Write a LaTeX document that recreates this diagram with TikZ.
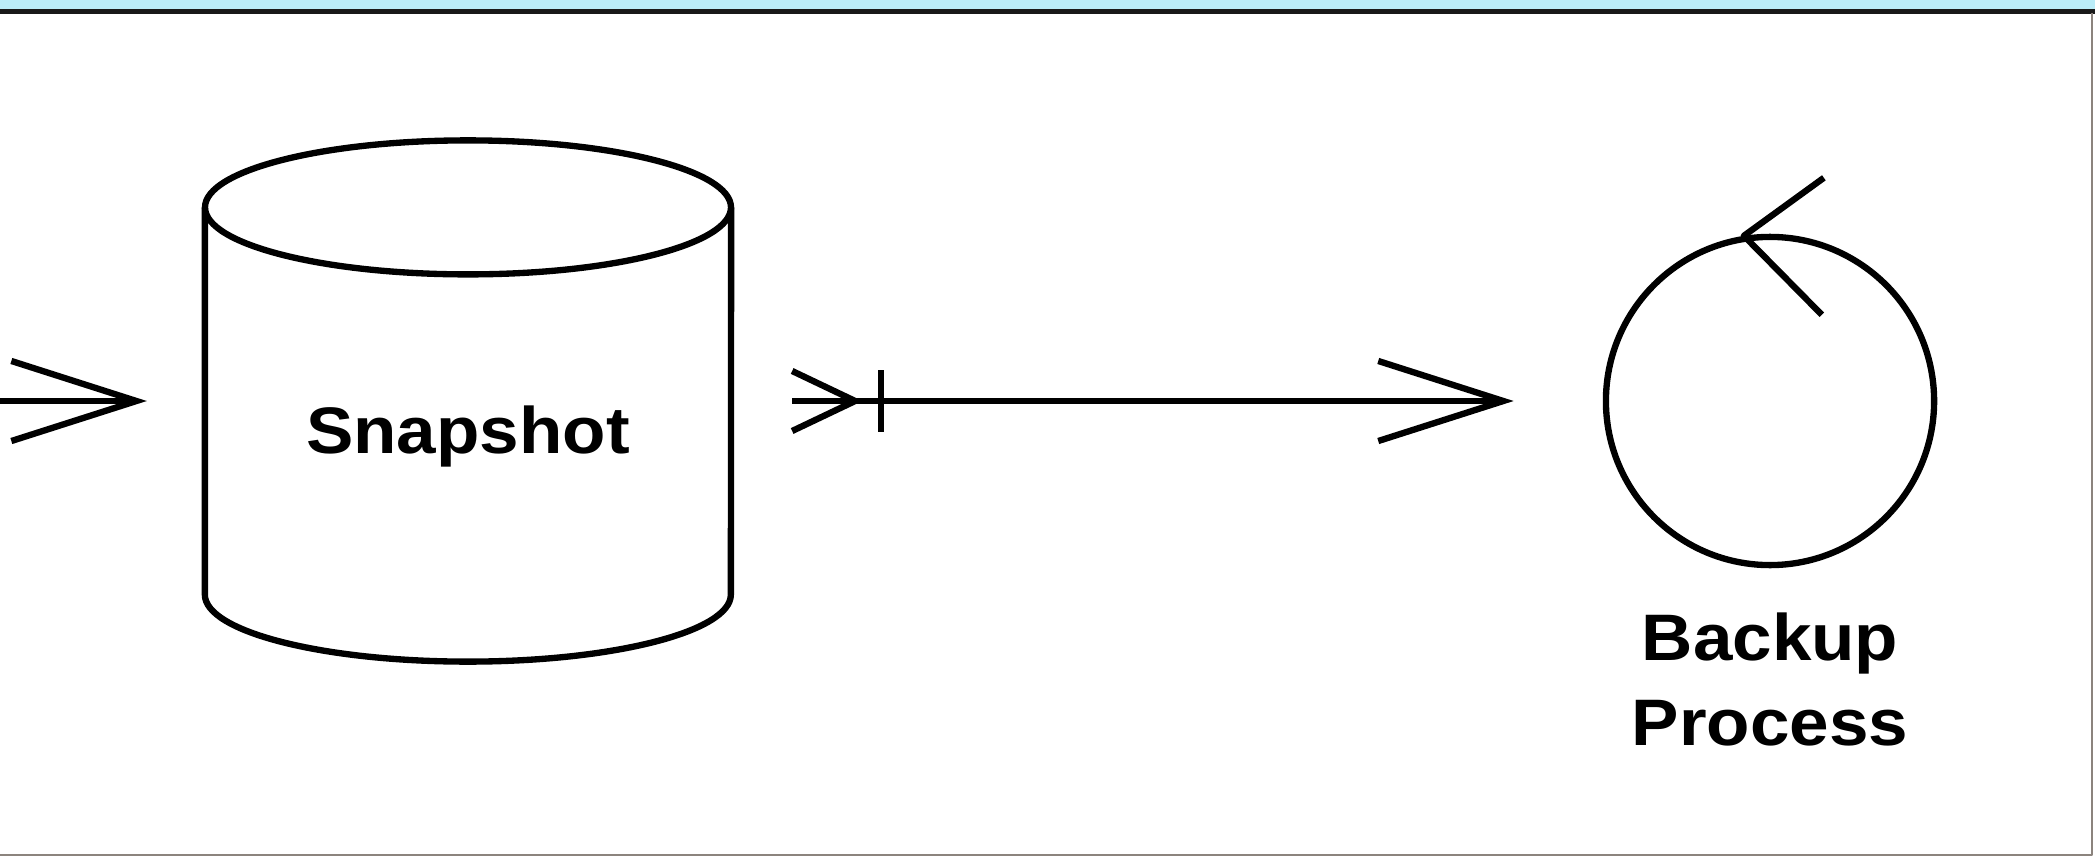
\documentclass[tikz,border=0pt]{standalone}
\usepackage{fontspec}
\newfontfamily\lblfont{Liberation Sans}[FakeStretch=1.08]
\usetikzlibrary{arrows.meta,positioning}
\definecolor{bandcyan}{RGB}{186,236,248}
\definecolor{framegray}{RGB}{140,132,126}
\begin{document}
\begin{tikzpicture}[x=0.01cm,y=0.01cm,line width=1.8pt,line join=round,
    flow/.style={-{Straight Barb[length=1.25cm,width=0.8cm]}},
    lbl/.style={font=\lblfont\bfseries\fontsize{18.7pt}{24.2pt}\selectfont,inner sep=0pt,align=center},
    store/.style={minimum width=5.26cm,minimum height=5.21cm,inner sep=0pt,outer sep=0pt},
    proc/.style={draw,circle,minimum size=3.28cm,inner sep=0pt}]
  \useasboundingbox (0,0) rectangle (2095,857);
  \fill[white] (0,0) rectangle (2095,857);
  \fill[bandcyan] (0,847) rectangle (2095,857);
  \draw[line width=1.5pt,black!90] (0,845.5) -- (2095,845.5);
  \draw[framegray,line width=0.7pt] (2092,844) -- (2092,2) -- (0,2);

  \node[store] (snap) at (468,456) {};
  \draw ([yshift=-0.67cm]snap.north) ellipse [x radius=263,y radius=67];
  \draw ([yshift=-0.67cm]snap.north west) -- ([yshift=0.67cm]snap.south west)
    arc[start angle=180,end angle=360,x radius=263,y radius=67] -- ([yshift=-0.67cm]snap.north east);
  \node[lbl,anchor=base,yshift=-0.52cm] (snaplbl) at (snap.center) {Snapshot};
  \node[proc] (bp) at (1770,456) {};
  \node[lbl,below=0.41cm of bp] (bplbl) {Backup\\Process};

  % coming in from the left edge
  \coordinate (src) at (0,456);
  \draw[flow,shorten >=0.58cm] (src) -- (snap.west);
  % snapshot to backup process
  \path (snap.east) ++(61,0) coordinate (tail);
  \draw[flow,shorten >=0.89cm] (tail) -- (bp.west);
  \draw (tail) ++(0,30) -- ++(63,-30) -- ++(-63,-30);
  \draw (tail) ++(89,31) -- ++(0,-62);
  % loop mark on the process
  \draw (bp.99) ++(80,58) -- (bp.99) -- ++(78,-79);
\end{tikzpicture}
\end{document}
